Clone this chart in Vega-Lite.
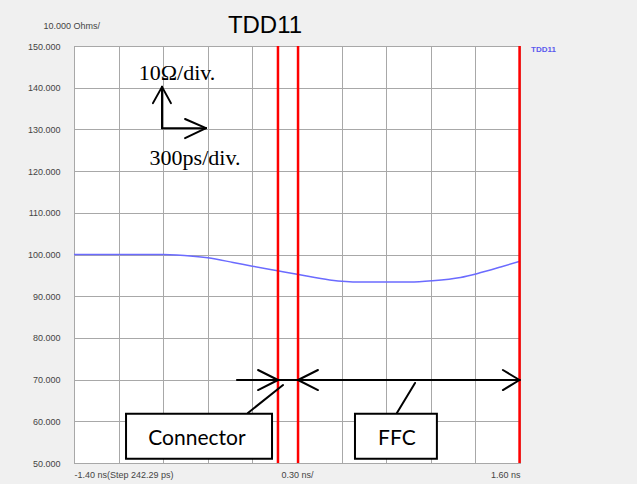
{
  "$schema": "https://vega.github.io/schema/vega-lite/v6.json",
  "width": 446,
  "height": 417,
  "autosize": {"type": "none"},
  "padding": {"left": 74, "top": 46, "right": 117, "bottom": 21},
  "background": "#f0f0f0",
  "config": {
    "view": {"fill": "#ffffff", "stroke": "#888888", "strokeWidth": 1}
  },
  "title": {"text": "TDD11", "fontSize": 24, "font": "Liberation Sans", "fontWeight": "normal", "color": "#000000", "dx": -32, "offset": -17},
  "datasets": {
    "curve": [
      {"x": -1.4, "y": 100.0, "series": "TDD11"},
      {"x": -0.8, "y": 100.0, "series": "TDD11"},
      {"x": -0.6, "y": 99.6, "series": "TDD11"},
      {"x": -0.5, "y": 99.2, "series": "TDD11"},
      {"x": -0.33, "y": 98.1, "series": "TDD11"},
      {"x": -0.2, "y": 97.2, "series": "TDD11"},
      {"x": -0.03, "y": 96.1, "series": "TDD11"},
      {"x": 0.11, "y": 95.2, "series": "TDD11"},
      {"x": 0.32, "y": 93.9, "series": "TDD11"},
      {"x": 0.52, "y": 93.4, "series": "TDD11"},
      {"x": 0.86, "y": 93.4, "series": "TDD11"},
      {"x": 1.01, "y": 93.7, "series": "TDD11"},
      {"x": 1.2, "y": 94.5, "series": "TDD11"},
      {"x": 1.31, "y": 95.4, "series": "TDD11"},
      {"x": 1.47, "y": 97.0, "series": "TDD11"},
      {"x": 1.6, "y": 98.4, "series": "TDD11"}
    ],
    "markers": [
      {"x": -0.028},
      {"x": 0.107},
      {"x": 1.597}
    ],
    "boxes": [
      {"x": -1.05, "x2": -0.068, "y": 61.8, "y2": 51.0},
      {"x": 0.49, "x2": 1.041, "y": 61.8, "y2": 51.0}
    ],
    "segments": [
      {"x": -0.808, "y": 140.2, "x2": -0.808, "y2": 130.3},
      {"x": -0.869, "y": 136.3, "x2": -0.808, "y2": 140.2},
      {"x": -0.748, "y": 136.3, "x2": -0.808, "y2": 140.2},
      {"x": -0.808, "y": 130.3, "x2": -0.512, "y2": 130.3},
      {"x": -0.653, "y": 132.5, "x2": -0.512, "y2": 130.3},
      {"x": -0.653, "y": 127.9, "x2": -0.512, "y2": 130.3},
      {"x": -0.304, "y": 69.9, "x2": 0.107, "y2": 69.9},
      {"x": -0.162, "y": 72.3, "x2": -0.028, "y2": 69.9},
      {"x": -0.162, "y": 67.5, "x2": -0.028, "y2": 69.9},
      {"x": -0.23, "y": 62.0, "x2": 0.006, "y2": 68.7},
      {"x": 0.107, "y": 69.9, "x2": 1.597, "y2": 69.9},
      {"x": 0.241, "y": 72.3, "x2": 0.107, "y2": 69.9},
      {"x": 0.241, "y": 67.5, "x2": 0.107, "y2": 69.9},
      {"x": 1.485, "y": 72.3, "x2": 1.597, "y2": 69.9},
      {"x": 1.485, "y": 67.5, "x2": 1.597, "y2": 69.9},
      {"x": 0.894, "y": 69.2, "x2": 0.772, "y2": 62.0}
    ],
    "serifText": [
      {"x": -0.707, "y": 141.8, "label": "10Ω/div."},
      {"x": -0.586, "y": 121.5, "label": "300ps/div."}
    ],
    "boxText": [
      {"x": -0.573, "y": 54.3, "label": "Connector"},
      {"x": 0.772, "y": 54.3, "label": "FFC"}
    ]
  },
  "layer": [
    {
      "data": {"name": "curve"},
      "mark": {"type": "line", "strokeWidth": 1.5, "interpolate": "monotone"},
      "encoding": {
        "x": {
          "field": "x", "type": "quantitative",
          "scale": {"domain": [-1.4, 1.6], "nice": false, "zero": false},
          "axis": {
            "title": null,
            "values": [-1.4, -1.1, -0.8, -0.5, -0.2, 0.1, 0.4, 0.7, 1.0, 1.3, 1.6],
            "labelExpr": "datum.value < -1.3 ? '-1.40 ns(Step 242.29 ps)' : (abs(datum.value - 0.1) < 0.01 ? '0.30 ns/' : (datum.value > 1.5 ? '1.60 ns' : ''))",
            "labelFlush": true,
            "labelOverlap": false,
            "labelBound": false,
            "labelPadding": 7,
            "labelFontSize": 9,
            "labelFont": "Liberation Sans",
            "labelColor": "#444444",
            "ticks": false,
            "domain": false,
            "grid": true,
            "gridColor": "#a8a8a8",
            "gridWidth": 1,
            "gridOpacity": 1
          }
        },
        "y": {
          "field": "y", "type": "quantitative",
          "scale": {"domain": [50, 150], "nice": false, "zero": false},
          "axis": {
            "title": "10.000 Ohms/",
            "titleAngle": 0,
            "titleAlign": "left",
            "titleBaseline": "alphabetic",
            "titleX": -31,
            "titleY": -18,
            "titleFontSize": 9,
            "titleFontWeight": "normal",
            "titleFont": "Liberation Sans",
            "titleColor": "#444444",
            "values": [50, 60, 70, 80, 90, 100, 110, 120, 130, 140, 150],
            "format": ".3f",
            "labelFlush": false,
            "labelPadding": 14,
            "labelFontSize": 9,
            "labelFont": "Liberation Sans",
            "labelColor": "#444444",
            "ticks": false,
            "domain": false,
            "grid": true,
            "gridColor": "#a8a8a8",
            "gridWidth": 1,
            "gridOpacity": 1
          }
        },
        "color": {
          "field": "series", "type": "nominal",
          "scale": {"range": ["#6b6bff"]},
          "legend": {
            "title": null,
            "orient": "none",
            "legendX": 449,
            "legendY": 0,
            "padding": 0,
            "symbolSize": 0,
            "symbolOpacity": 0,
            "symbolStrokeWidth": 0,
            "labelOffset": 0,
            "labelFontSize": 8,
            "labelFont": "Liberation Sans",
            "labelFontWeight": "bold",
            "labelColor": "#5a5aee"
          }
        }
      }
    },
    {
      "data": {"name": "markers"},
      "mark": {"type": "rule", "color": "#ff0000", "strokeWidth": 2.5},
      "encoding": {
        "x": {"field": "x", "type": "quantitative"}
      }
    },
    {
      "data": {"name": "boxes"},
      "mark": {"type": "rect", "fill": "#ffffff", "stroke": "#000000", "strokeWidth": 2},
      "encoding": {
        "x": {"field": "x", "type": "quantitative"},
        "x2": {"field": "x2"},
        "y": {"field": "y", "type": "quantitative"},
        "y2": {"field": "y2"}
      }
    },
    {
      "data": {"name": "segments"},
      "mark": {"type": "rule", "color": "#000000", "strokeWidth": 2, "strokeCap": "round"},
      "encoding": {
        "x": {"field": "x", "type": "quantitative"},
        "x2": {"field": "x2"},
        "y": {"field": "y", "type": "quantitative"},
        "y2": {"field": "y2"}
      }
    },
    {
      "data": {"name": "serifText"},
      "mark": {"type": "text", "font": "Liberation Serif", "fontSize": 22, "color": "#000000", "align": "center", "baseline": "alphabetic"},
      "encoding": {
        "x": {"field": "x", "type": "quantitative"},
        "y": {"field": "y", "type": "quantitative"},
        "text": {"field": "label"}
      }
    },
    {
      "data": {"name": "boxText"},
      "mark": {"type": "text", "font": "Lato", "fontSize": 21, "color": "#000000", "align": "center", "baseline": "alphabetic"},
      "encoding": {
        "x": {"field": "x", "type": "quantitative"},
        "y": {"field": "y", "type": "quantitative"},
        "text": {"field": "label"}
      }
    }
  ]
}
